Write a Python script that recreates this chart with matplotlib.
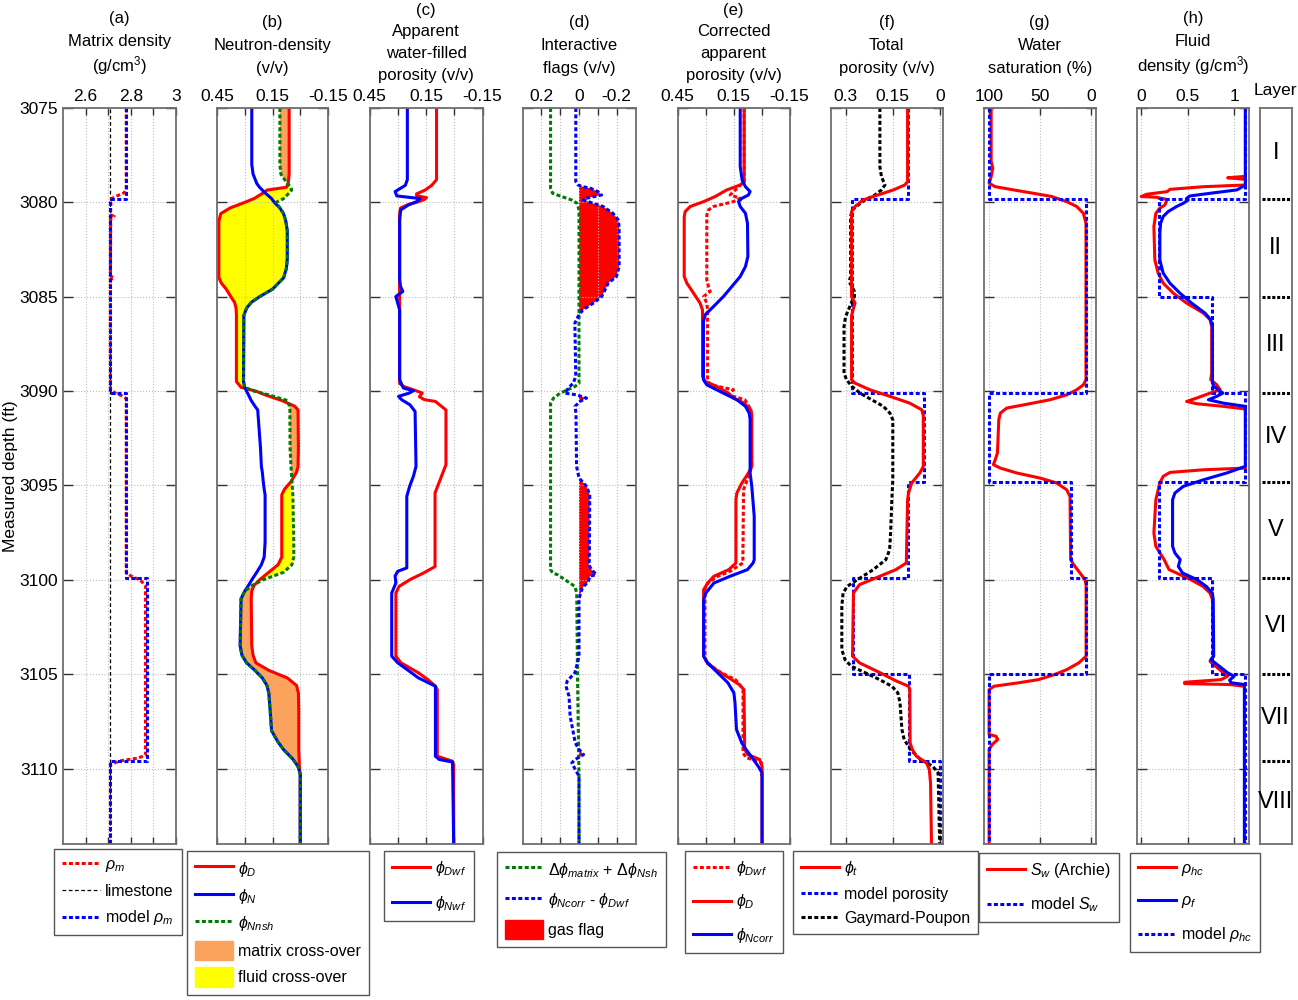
import numpy as np
import matplotlib
matplotlib.use("Agg")
import matplotlib.pyplot as plt
from matplotlib.lines import Line2D
from matplotlib.patches import Patch

plt.rcParams["font.family"] = ["Liberation Sans", "DejaVu Sans"]
plt.rcParams["mathtext.fontset"] = "custom"
plt.rcParams["mathtext.rm"] = "Liberation Sans"
plt.rcParams["mathtext.it"] = "Liberation Sans:italic"
plt.rcParams["mathtext.fallback"] = "stixsans"

# ========================
# DATA
# ========================
DEPTH_TOP, DEPTH_BOTTOM = 3075, 3114
YTICKS = [3075, 3080, 3085, 3090, 3095, 3100, 3105, 3110]

LAYER_NAMES = ["I", "II", "III", "IV", "V", "VI", "VII", "VIII"]
LAYER_TOPS = [3075, 3079.8, 3085.0, 3090.1, 3094.8, 3099.9, 3105.0, 3109.6, 3114]

# model values per layer
MODEL_RHO_M = [2.78, 2.71, 2.71, 2.78, 2.78, 2.87, 2.87, 2.71]
MODEL_POR = [0.103, 0.281, 0.281, 0.05, 0.103, 0.278, 0.10, 0.0]
MODEL_SW = [100, 5, 5, 100, 20, 5, 100, 100]
MODEL_RHO_HC = [1.12, 0.19, 0.76, 1.12, 0.19, 0.76, 1.12, 1.12]
LIMESTONE = 2.71

# (a) matrix density
RHOM_DEPTH = [3075, 3079.3, 3079.5, 3079.65, 3079.8, 3080.0, 3080.65, 3080.75, 3080.85,
              3083.9, 3084.0, 3084.1, 3089.9, 3090.1, 3090.25, 3090.4, 3099.6, 3099.8,
              3100.0, 3100.3, 3109.3, 3109.45, 3109.6, 3109.8, 3114]
RHOM = [2.78, 2.78, 2.77, 2.74, 2.715, 2.712, 2.71, 2.726, 2.711,
        2.71, 2.725, 2.71, 2.71, 2.73, 2.76, 2.78, 2.78, 2.80,
        2.84, 2.865, 2.865, 2.83, 2.75, 2.71, 2.71]

# (b) neutron-density, common depth
DEPTH_B = [3075.0, 3078.0, 3078.5, 3079.0, 3079.2, 3079.35, 3079.5, 3079.8, 3080.0, 3080.3,
           3080.6, 3081.0, 3081.5, 3083.0, 3083.5, 3084.0, 3084.3, 3084.6, 3085.0, 3085.3,
           3085.6, 3086.0, 3089.5, 3089.8, 3090.0, 3090.2, 3090.5, 3090.8, 3091.0, 3093.0,
           3094.0, 3094.3, 3094.8, 3095.2, 3095.5, 3098.0, 3098.8, 3099.2, 3099.6, 3100.0,
           3100.3, 3100.6, 3101.0, 3103.5, 3104.0, 3104.4, 3104.8, 3105.2, 3105.6, 3106.0,
           3107.0, 3108.0, 3108.6, 3109.0, 3109.5, 3109.9, 3110.3, 3114.0]
PHI_D = [0.06, 0.06, 0.06, 0.065, 0.075, 0.18, 0.20, 0.25, 0.30, 0.38,
         0.43, 0.44, 0.44, 0.44, 0.44, 0.44, 0.425, 0.40, 0.375, 0.355,
         0.347, 0.345, 0.345, 0.32, 0.24, 0.19, 0.10, 0.03, 0.012, 0.01,
         0.012, 0.02, 0.05, 0.085, 0.10, 0.10, 0.10, 0.12, 0.17, 0.22,
         0.25, 0.262, 0.265, 0.262, 0.255, 0.24, 0.17, 0.07, 0.02, 0.01,
         0.008, 0.008, 0.008, 0.008, 0.006, 0.005, 0.0, 0.0]
PHI_N = [0.262, 0.262, 0.255, 0.235, 0.22, 0.205, 0.19, 0.155, 0.14, 0.11,
         0.09, 0.078, 0.07, 0.07, 0.075, 0.09, 0.12, 0.15, 0.22, 0.265,
         0.29, 0.305, 0.307, 0.30, 0.29, 0.28, 0.265, 0.245, 0.23, 0.215,
         0.21, 0.205, 0.20, 0.195, 0.19, 0.19, 0.195, 0.21, 0.235, 0.262,
         0.28, 0.30, 0.32, 0.325, 0.315, 0.29, 0.245, 0.205, 0.18, 0.17,
         0.162, 0.155, 0.12, 0.09, 0.04, 0.012, 0.0, 0.0]
PHI_NNSH = [0.11, 0.11, 0.105, 0.07, 0.05, 0.047, 0.06, 0.09, 0.13, 0.11,
            0.09, 0.078, 0.07, 0.07, 0.075, 0.09, 0.12, 0.15, 0.22, 0.265,
            0.29, 0.305, 0.307, 0.30, 0.25, 0.17, 0.07, 0.058, 0.056, 0.055,
            0.05, 0.048, 0.045, 0.042, 0.04, 0.035, 0.035, 0.045, 0.09, 0.20,
            0.26, 0.30, 0.32, 0.325, 0.315, 0.29, 0.245, 0.205, 0.18, 0.17,
            0.162, 0.155, 0.12, 0.09, 0.04, 0.012, 0.0, 0.0]

# (c) apparent water-filled porosity
DWF_DEPTH = [3075, 3078.8, 3079.1, 3079.35, 3079.55, 3079.65, 3079.75, 3079.85, 3080.0, 3080.1,
             3080.3, 3080.6, 3089.6, 3089.75, 3090.1, 3090.3, 3090.45, 3090.55, 3091.0, 3093.9,
             3094.7, 3095.4, 3099.3, 3099.65, 3099.99, 3100.35, 3100.7, 3104.05, 3104.4, 3104.93,
             3105.29, 3105.64, 3105.82, 3109.35, 3109.61, 3109.8, 3114]
PHI_DWF = [0.094, 0.094, 0.12, 0.155, 0.20, 0.20, 0.147, 0.16, 0.20, 0.24,
           0.285, 0.29, 0.29, 0.27, 0.17, 0.185, 0.16, 0.10, 0.044, 0.044,
           0.075, 0.102, 0.102, 0.165, 0.235, 0.293, 0.31, 0.31, 0.283, 0.19,
           0.14, 0.10, 0.09, 0.09, 0.01, 0.003, 0.003]
NWF_DEPTH = [3075, 3078.8, 3079.1, 3079.43, 3079.66, 3079.8, 3079.96, 3080.14, 3080.4, 3080.93,
             3084.11, 3084.46, 3084.72, 3084.99, 3085.17, 3085.7, 3089.4, 3089.84, 3089.98, 3090.11,
             3090.28, 3090.46, 3090.73, 3091.08, 3093.99, 3094.52, 3095.05, 3095.58, 3099.37, 3099.55,
             3099.8, 3100.17, 3100.7, 3104.05, 3104.4, 3104.76, 3105.2, 3105.64, 3109.35, 3109.52,
             3109.66, 3114]
PHI_NWF = [0.249, 0.249, 0.26, 0.314, 0.305, 0.18, 0.20, 0.244, 0.284, 0.29,
           0.29, 0.285, 0.273, 0.31, 0.305, 0.29, 0.29, 0.27, 0.217, 0.24,
           0.296, 0.279, 0.235, 0.208, 0.203, 0.217, 0.237, 0.252, 0.252, 0.30,
           0.314, 0.31, 0.332, 0.332, 0.30, 0.25, 0.19, 0.10, 0.10, 0.08,
           0.009, 0.003]

# (d) interactive flags
DSUM_DEPTH = [3075, 3079.25, 3079.52, 3079.69, 3079.87, 3080.05, 3080.4, 3089.58, 3089.75, 3090.11,
              3090.37, 3090.64, 3099.46, 3099.64, 3099.73, 3099.99, 3100.35, 3100.7, 3105.0, 3110.5, 3114]
DPHI_SUM = [0.151, 0.151, 0.14, 0.093, 0.04, 0.01, 0.0, 0.0, 0.02, 0.10,
            0.135, 0.151, 0.151, 0.14, 0.114, 0.075, 0.022, 0.012, 0.008, 0.0, 0.0]
FLAG_DEPTH = [3075, 3078.9, 3079.08, 3079.17, 3079.25, 3079.43, 3079.61, 3079.78, 3079.87, 3080.05,
              3080.22, 3080.58, 3080.93, 3081.3, 3083.4, 3083.93, 3084.28, 3084.64, 3084.99, 3085.34,
              3085.7, 3086.05, 3086.4, 3089.23, 3089.58, 3089.84, 3090.11, 3090.2, 3090.37, 3090.55,
              3090.81, 3091.17, 3093.99, 3094.6, 3095.05, 3095.49, 3098.93, 3099.2, 3099.46, 3099.64,
              3099.73, 3099.81, 3100.08, 3100.43, 3101.0, 3104.05, 3104.4, 3104.93, 3105.37, 3105.64,
              3106.17, 3107.23, 3108.64, 3108.99, 3109.26, 3109.52, 3109.7, 3110.05, 3110.4, 3114]
DPHI_FLAG = [0.017, 0.017, 0.005, -0.02, -0.06, -0.10, -0.12, -0.04, -0.023, -0.075,
             -0.128, -0.18, -0.208, -0.213, -0.213, -0.199, -0.155, -0.138, -0.12, -0.076,
             -0.02, 0.005, 0.022, 0.017, 0.031, 0.057, 0.075, 0.013, -0.04, -0.005,
             0.021, 0.016, 0.013, 0.0, -0.04, -0.057, -0.055, -0.052, -0.066, -0.084,
             -0.09, -0.058, -0.05, -0.018, 0.0, 0.0, 0.008, 0.022, 0.063, 0.069,
             0.053, 0.047, 0.02, 0.0, -0.024, 0.02, 0.038, 0.02, 0.0, 0.0]

# (e) corrected apparent porosity
DE_DEPTH = [3075, 3078.9, 3079.08, 3079.34, 3079.69, 3079.96, 3080.22, 3080.49, 3080.75, 3083.93,
            3084.28, 3084.81, 3085.34, 3085.7, 3089.23, 3089.49, 3089.75, 3090.11, 3090.37, 3090.64,
            3090.99, 3091.3, 3093.99, 3094.34, 3094.87, 3095.4, 3095.76, 3099.11, 3099.46, 3099.82,
            3100.17, 3100.52, 3104.05, 3104.4, 3104.76, 3105.29, 3105.55, 3105.82, 3108.99, 3109.26,
            3109.52, 3109.88, 3114]
PHI_D_E = [0.093, 0.093, 0.114, 0.186, 0.248, 0.31, 0.382, 0.409, 0.414, 0.414,
           0.40, 0.364, 0.329, 0.316, 0.316, 0.302, 0.24, 0.177, 0.15, 0.093,
           0.057, 0.052, 0.052, 0.07, 0.105, 0.132, 0.137, 0.137, 0.175, 0.256,
           0.288, 0.31, 0.31, 0.288, 0.245, 0.16, 0.12, 0.094, 0.09, 0.073,
           0.01, -0.003, -0.003]
DWFE_DEPTH = [3075, 3078.9, 3079.34, 3079.61, 3079.78, 3079.96, 3080.22, 3080.4, 3080.67, 3084.11,
              3084.46, 3084.72, 3084.99, 3085.34, 3085.7, 3089.4, 3089.67, 3089.93, 3090.2, 3090.46,
              3090.99, 3093.99, 3094.52, 3095.23, 3099.11, 3099.55, 3099.82, 3100.17, 3100.52, 3104.05,
              3104.4, 3104.93, 3105.29, 3105.64, 3105.82, 3109.17, 3109.43, 3109.61, 3109.7, 3110.4]
PHI_DWF_E = [0.093, 0.093, 0.14, 0.168, 0.114, 0.15, 0.257, 0.284, 0.293, 0.293,
             0.284, 0.275, 0.31, 0.293, 0.289, 0.289, 0.275, 0.15, 0.177, 0.089,
             0.057, 0.052, 0.07, 0.096, 0.10, 0.169, 0.235, 0.288, 0.303, 0.303,
             0.295, 0.215, 0.14, 0.11, 0.099, 0.099, 0.082, 0.018, 0.0, 0.0]
NC_DEPTH = [3075, 3078.11, 3078.81, 3079.17, 3079.43, 3079.61, 3079.78, 3079.96, 3080.22, 3080.58,
            3081.11, 3082.87, 3083.4, 3083.93, 3084.46, 3084.99, 3085.52, 3085.96, 3086.31, 3089.4,
            3089.67, 3090.11, 3090.46, 3090.81, 3091.17, 3091.5, 3094.34, 3095.05, 3096.64, 3098.93,
            3099.11, 3099.46, 3099.82, 3100.17, 3100.7, 3101.05, 3104.05, 3104.4, 3104.93, 3105.46,
            3105.99, 3106.52, 3107.93, 3108.64, 3108.99, 3109.43, 3109.88, 3110.23, 3114]
PHI_NCORR = [0.114, 0.114, 0.104, 0.086, 0.061, 0.07, 0.104, 0.123, 0.114, 0.086,
             0.075, 0.073, 0.086, 0.114, 0.159, 0.204, 0.257, 0.302, 0.311, 0.311,
             0.293, 0.204, 0.132, 0.086, 0.066, 0.061, 0.061, 0.052, 0.039, 0.039,
             0.045, 0.075, 0.17, 0.255, 0.298, 0.31, 0.31, 0.29, 0.234, 0.18,
             0.148, 0.142, 0.134, 0.106, 0.083, 0.05, 0.018, -0.003, -0.003]

# (f) total porosity
PT_DEPTH = [3075, 3078.9, 3079.08, 3079.34, 3079.69, 3079.87, 3080.22, 3080.49, 3085.0, 3085.34,
            3085.61, 3086.0, 3089.4, 3089.58, 3089.93, 3090.28, 3090.64, 3090.99, 3091.3, 3093.99,
            3094.34, 3094.87, 3095.4, 3095.76, 3099.11, 3099.46, 3099.9, 3100.26, 3100.7, 3104.05,
            3104.4, 3104.93, 3105.37, 3105.64, 3105.82, 3108.64, 3108.99, 3109.35, 3109.7, 3110.05,
            3110.76, 3114]
PHI_T = [0.103, 0.103, 0.112, 0.148, 0.212, 0.244, 0.27, 0.281, 0.281, 0.27,
         0.275, 0.281, 0.281, 0.27, 0.223, 0.159, 0.096, 0.058, 0.053, 0.053,
         0.064, 0.09, 0.10, 0.103, 0.107, 0.14, 0.204, 0.256, 0.275, 0.278,
         0.256, 0.19, 0.138, 0.10, 0.096, 0.095, 0.088, 0.075, 0.043, 0.034,
         0.03, 0.027]
GP_DEPTH = [3075, 3078.11, 3078.64, 3079.08, 3079.34, 3079.61, 3079.87, 3080.14, 3080.4, 3080.75,
            3083.93, 3084.2, 3084.46, 3084.72, 3084.99, 3085.25, 3085.7, 3086.05, 3086.58, 3089.05,
            3089.4, 3089.75, 3090.11, 3090.46, 3090.81, 3091.17, 3091.52, 3094.7, 3095.76, 3097.52,
            3098.4, 3098.93, 3099.46, 3099.99, 3100.35, 3100.7, 3101.4, 3103.7, 3104.23, 3104.58,
            3104.93, 3105.29, 3105.64, 3105.99, 3106.52, 3107.93, 3108.46, 3108.99, 3109.52, 3109.88,
            3110.23, 3114]
PHI_GP = [0.191, 0.191, 0.186, 0.175, 0.186, 0.207, 0.238, 0.26, 0.279, 0.284,
          0.284, 0.289, 0.28, 0.272, 0.272, 0.28, 0.291, 0.30, 0.305, 0.305,
          0.297, 0.28, 0.254, 0.217, 0.18, 0.159, 0.15, 0.15, 0.153, 0.157,
          0.16, 0.172, 0.212, 0.262, 0.295, 0.308, 0.312, 0.312, 0.302, 0.282,
          0.237, 0.192, 0.153, 0.134, 0.127, 0.121, 0.114, 0.094, 0.062, 0.023,
          0.006, 0.001]

# (g) water saturation
SW_DEPTH = [3075, 3077.82, 3078.18, 3078.64, 3078.99, 3079.17, 3079.34, 3079.52, 3079.69, 3079.96,
            3080.22, 3080.58, 3081.11, 3089.4, 3089.67, 3089.93, 3090.2, 3090.46, 3090.73, 3090.9,
            3091.17, 3091.52, 3093.28, 3093.64, 3093.9, 3094.08, 3094.34, 3094.61, 3094.87, 3095.23,
            3095.58, 3098.93, 3099.2, 3099.64, 3099.99, 3100.3, 3104.05, 3104.4, 3104.76, 3105.02,
            3105.29, 3105.46, 3105.64, 3105.82, 3108.2, 3108.29, 3108.46, 3108.73, 3108.99, 3114]
SW = [98, 98, 96.4, 98, 100, 94, 76, 56.5, 38.6, 23.9,
      14, 7.5, 4.9, 4.9, 7.5, 14, 23.9, 40.2, 66, 82.7,
      89, 90.5, 91.8, 94, 95.8, 89, 72.9, 50, 33.7, 23.9,
      20.6, 20, 17, 10.8, 5.9, 4.8, 4.8, 11.9, 23.8, 35.7,
      51.6, 71.4, 95.2, 100, 100, 93.3, 91.5, 97, 100, 100]

# (h) fluid density (nan = not plotted)
RHC_DEPTH = [3078.62, 3078.7, 3078.78, 3078.85, 3079.08, 3079.17, 3079.31, 3079.43, 3079.57,
             3079.69, 3079.73, 3079.84, 3079.96, 3080.14, 3080.31, 3080.58, 3081.28, 3083.05, 3083.75,
             3084.28, 3084.81, 3085.34, 3085.87, 3086.22, 3086.58, 3089.05, 3089.4, 3089.67, 3089.93,
             3090.11, 3090.37, 3090.55, 3090.67, 3090.81, 3090.95, 3092.0, 3094.0, 3094.08, 3094.17,
             3094.31, 3094.52, 3094.87, 3095.76, 3097.52, 3098.23, 3098.93, 3099.46, 3099.64, 3099.99,
             3100.35, 3100.7, 3101.05, 3104.05, 3104.32, 3104.58, 3104.93, 3105.11, 3105.29, 3105.43,
             3105.5, 3105.55, 3105.64]
RHO_HC = [1.12, 0.93, 1.12, np.nan, 1.12, 0.67, 0.31, 0.28, 0.06,
          0.0, 0.165, 0.27, 0.27, 0.255, 0.2, 0.158, 0.137, 0.147, 0.183,
          0.237, 0.345, 0.489, 0.67, 0.741, 0.759, 0.759, 0.748, 0.813, 0.849,
          0.741, 0.597, 0.489, 0.597, 0.885, 1.12, np.nan, np.nan, 1.12, 0.67,
          0.31, 0.237, 0.2, 0.158, 0.137, 0.158, 0.247, 0.30, 0.38, 0.533,
          0.665, 0.74, 0.767, 0.775, 0.74, 0.80, 0.885, 0.93, 0.86, 0.467,
          0.467, 0.95, 1.105]
RF_DEPTH = [3075, 3079.08, 3079.34, 3079.52, 3079.66, 3079.78, 3079.87, 3080.05, 3080.22, 3080.49,
            3080.75, 3081.11, 3081.64, 3083.05, 3083.75, 3084.28, 3084.81, 3085.34, 3085.87, 3086.22,
            3086.58, 3089.4, 3089.75, 3089.93, 3090.11, 3090.28, 3090.46, 3090.64, 3090.81, 3093.99,
            3094.34, 3094.7, 3095.05, 3095.4, 3095.76, 3098.23, 3098.58, 3098.93, 3099.29, 3099.64,
            3099.99, 3100.35, 3100.7, 3101.05, 3104.05, 3104.23, 3104.58, 3104.93, 3105.11, 3105.32,
            3105.46, 3105.55, 3114]
RHO_F = [1.12, 1.12, 1.03, 0.74, 0.525, 0.49, 0.507, 0.453, 0.381, 0.29,
         0.237, 0.209, 0.201, 0.201, 0.237, 0.309, 0.417, 0.543, 0.687, 0.748,
         0.766, 0.766, 0.777, 0.831, 0.878, 0.813, 0.723, 0.885, 1.12, 1.12,
         0.92, 0.67, 0.453, 0.363, 0.338, 0.338, 0.363, 0.42, 0.40, 0.445,
         0.60, 0.70, 0.765, 0.775, 0.78, 0.75, 0.84, 0.93, 1.0, 0.95,
         0.97, 1.11, 1.11]

# ========================
# STYLE
# ========================
W, H = 1298, 1000
AX_TOP, AX_BOT = 108, 844
RED, BLUE, GREEN = "#ff0000", "#0000ff", "#007a00"
LW = 2.2
DOT = (0, (1.3, 0.8))
TICK_FS, TITLE_FS, LEG_FS = 12.5, 12, 11.5
ROWS3 = [22, 45, 68]          # title line centres (px from top)
ROWS3_SUP = [18, 41, 66]
ROWS4 = [10, 31, 53, 75]


def layer_steps(values):
    d, v = [], []
    for top, base, val in zip(LAYER_TOPS[:-1], LAYER_TOPS[1:], values):
        d += [top, base]
        v += [val, val]
    return v, d


def make_axis(x0, x1):
    return fig.add_axes([x0 / W, 1 - AX_BOT / H, (x1 - x0) / W, (AX_BOT - AX_TOP) / H])


def style_axis(ax, xlim, xticks, xlabels):
    ax.set_xlim(*xlim)
    ax.set_ylim(DEPTH_BOTTOM, DEPTH_TOP)
    ax.set_xticks(xticks)
    ax.set_xticklabels(xlabels)
    ax.set_yticks(YTICKS)
    ax.tick_params(axis="x", top=True, bottom=True, labeltop=True, labelbottom=False,
                   direction="in", length=5, width=1, color="#333333", labelsize=TICK_FS, pad=3)
    ax.tick_params(axis="y", left=True, right=True, labelleft=False, direction="in",
                   length=7, width=1, color="#333333", labelsize=TICK_FS)
    ax.grid(True, ls=":", lw=0.8, color="#bdbdbd")
    for s in ax.spines.values():
        s.set_color("#6e6e6e")
        s.set_linewidth(1.3)


def add_legend(ax, handles, labels, x, y, **kw):
    opts = dict(loc="upper left", bbox_to_anchor=(x / W, 1 - y / H), bbox_transform=fig.transFigure,
                borderaxespad=0, fontsize=LEG_FS, fancybox=False, framealpha=1, edgecolor="#555555",
                handlelength=2.4, handletextpad=0.3, borderpad=0.5, labelspacing=0.6)
    opts.update(kw)
    leg = ax.legend(handles, labels, **opts)
    leg.get_frame().set_linewidth(1.0)
    return leg


def title(ax, lines, rows):
    # one text per line so the spacing follows the reference
    b = ax.get_position()
    for text, yc in zip(lines, rows):
        fig.text(b.x0 + b.width / 2, 1 - (yc + 5) / H, text, ha="center", va="baseline",
                 fontsize=TITLE_FS)


def ln(color, ls="-", lw=LW):
    return Line2D([], [], color=color, ls=ls, lw=lw)


fig = plt.figure(figsize=(W / 100, H / 100), dpi=100)

# (a) matrix density
ax = make_axis(63, 176)
style_axis(ax, (2.5, 3.0), [2.6, 2.7, 2.8, 2.9, 3.0], ["2.6", "", "2.8", "", "3"])
ax.axvline(LIMESTONE, color="black", lw=0.9, ls=(0, (3, 2)))
ax.plot(RHOM, RHOM_DEPTH, color=RED, lw=LW, ls=DOT)
mv, md = layer_steps(MODEL_RHO_M)
ax.plot(mv, md, color=BLUE, lw=LW, ls=DOT)
ax.tick_params(axis="y", labelleft=True)
ax.set_ylabel("Measured depth (ft)", fontsize=TICK_FS, labelpad=1)
title(ax, ["(a)", "Matrix density", "(g/cm$^3$)"], ROWS3_SUP)
add_legend(ax, [ln(RED, DOT), ln("black", (0, (3, 2)), 0.9), ln(BLUE, DOT)],
           [r"$\rho_m$", "limestone", r"model $\rho_m$"], 54, 849, labelspacing=0.6)

# (b) neutron-density
ax = make_axis(217, 328)
style_axis(ax, (0.45, -0.15), [0.45, 0.3, 0.15, 0, -0.15], ["0.45", "", "0.15", "", "-0.15"])
pd_, pg_ = np.array(PHI_D), np.array(PHI_NNSH)
ax.fill_betweenx(DEPTH_B, pd_, pg_, where=pd_ <= pg_, color="#fba35c", lw=0, interpolate=True)
ax.fill_betweenx(DEPTH_B, pd_, pg_, where=pd_ >= pg_, color="#ffff00", lw=0, interpolate=True)
ax.plot(PHI_D, DEPTH_B, color=RED, lw=LW)
ax.plot(PHI_N, DEPTH_B, color=BLUE, lw=LW)
ax.plot(PHI_NNSH, DEPTH_B, color=GREEN, lw=LW, ls=DOT)
title(ax, ["(b)", "Neutron-density", "(v/v)"], ROWS3)
add_legend(ax, [ln(RED), ln(BLUE), ln(GREEN, DOT), Patch(color="#fba35c"), Patch(color="#ffff00")],
           [r"$\phi_D$", r"$\phi_N$", r"$\phi_{Nnsh}$", "matrix cross-over", "fluid cross-over"],
           187, 851, handleheight=1.5, labelspacing=0.45)

# (c) apparent water-filled porosity
ax = make_axis(369.5, 482.5)
style_axis(ax, (0.45, -0.15), [0.45, 0.3, 0.15, 0, -0.15], ["0.45", "", "0.15", "", "-0.15"])
ax.plot(PHI_DWF, DWF_DEPTH, color=RED, lw=LW)
ax.plot(PHI_NWF, NWF_DEPTH, color=BLUE, lw=LW)
title(ax, ["(c)", "Apparent", "water-filled", "porosity (v/v)"], ROWS4)
add_legend(ax, [ln(RED), ln(BLUE)], [r"$\phi_{Dwf}$", r"$\phi_{Nwf}$"], 384, 851,
           labelspacing=1.0)

# (d) interactive flags
ax = make_axis(522.5, 635.5)
style_axis(ax, (0.3, -0.3), [0.2, 0.1, 0, -0.1, -0.2], ["0.2", "", "0", "", "-0.2"])
fl = np.array(DPHI_FLAG)
ax.fill_betweenx(FLAG_DEPTH, 0, fl, where=fl < 0, color=RED, lw=0, interpolate=True)
ax.plot(DPHI_SUM, DSUM_DEPTH, color=GREEN, lw=LW, ls=DOT)
ax.plot(DPHI_FLAG, FLAG_DEPTH, color=BLUE, lw=LW, ls=DOT)
title(ax, ["(d)", "Interactive", "flags (v/v)"], ROWS3)
add_legend(ax, [ln(GREEN, DOT), ln(BLUE, DOT), Patch(color=RED)],
           [r"$\Delta\phi_{matrix}$ + $\Delta\phi_{Nsh}$", r"$\phi_{Ncorr}$ - $\phi_{Dwf}$", "gas flag"],
           497, 852, handleheight=1.45, labelspacing=0.65)

# (e) corrected apparent porosity
ax = make_axis(677.5, 789.5)
style_axis(ax, (0.45, -0.15), [0.45, 0.3, 0.15, 0, -0.15], ["0.45", "", "0.15", "", "-0.15"])
ax.plot(PHI_D_E, DE_DEPTH, color=RED, lw=LW)
ax.plot(PHI_DWF_E, DWFE_DEPTH, color=RED, lw=LW, ls=DOT)
ax.plot(PHI_NCORR, NC_DEPTH, color=BLUE, lw=LW)
title(ax, ["(e)", "Corrected", "apparent", "porosity (v/v)"], ROWS4)
add_legend(ax, [ln(RED, DOT), ln(RED), ln(BLUE)],
           [r"$\phi_{Dwf}$", r"$\phi_D$", r"$\phi_{Ncorr}$"], 685, 851, labelspacing=0.9)

# (f) total porosity
ax = make_axis(830.5, 942.5)
style_axis(ax, (0.348, -0.008), [0.3, 0.15, 0], ["0.3", "0.15", "0"])
mv, md = layer_steps(MODEL_POR)
ax.plot(mv, md, color=BLUE, lw=LW, ls=DOT)
ax.plot(PHI_GP, GP_DEPTH, color="black", lw=LW, ls=DOT)
ax.plot(PHI_T, PT_DEPTH, color=RED, lw=LW)
title(ax, ["(f)", "Total", "porosity (v/v)"], ROWS3)
add_legend(ax, [ln(RED), ln(BLUE, DOT), ln("black", DOT)],
           [r"$\phi_t$", "model porosity", "Gaymard-Poupon"], 793, 851, labelspacing=0.55)

# (g) water saturation
ax = make_axis(983.5, 1096)
style_axis(ax, (105.5, -4.9), [100, 50, 0], ["100", "50", "0"])
ax.plot(SW, SW_DEPTH, color=RED, lw=LW)
mv, md = layer_steps(MODEL_SW)
ax.plot(mv, md, color=BLUE, lw=LW, ls=DOT)
title(ax, ["(g)", "Water", "saturation (%)"], ROWS3)
add_legend(ax, [ln(RED), ln(BLUE, DOT)], [r"$S_w$ (Archie)", r"model $S_w$"], 979, 853,
           labelspacing=0.95)

# (h) fluid density
ax = make_axis(1136.5, 1249.5)
style_axis(ax, (-0.05, 1.165), [0, 0.5, 1], ["0", "0.5", "1"])
ax.plot(RHO_HC, RHC_DEPTH, color=RED, lw=LW)
ax.plot(RHO_F, RF_DEPTH, color=BLUE, lw=LW)
mv, md = layer_steps(MODEL_RHO_HC)
ax.plot(mv, md, color=BLUE, lw=LW, ls=DOT)
title(ax, ["(h)", "Fluid", "density (g/cm$^3$)"], ROWS3_SUP)
add_legend(ax, [ln(RED), ln(BLUE), ln(BLUE, DOT)],
           [r"$\rho_{hc}$", r"$\rho_f$", r"model $\rho_{hc}$"], 1130, 853, labelspacing=0.95)

# layer column
ax = make_axis(1259.5, 1292)
ax.set_xlim(0, 1)
ax.set_ylim(DEPTH_BOTTOM, DEPTH_TOP)
ax.set_xticks([])
ax.set_yticks([])
for s in ax.spines.values():
    s.set_color("#6e6e6e")
    s.set_linewidth(1.3)
for b in LAYER_TOPS[1:-1]:
    ax.plot([0.08, 1.0], [b, b], color="black", lw=2.2, ls=(0, (1, 0.6)))
for name, top, base in zip(LAYER_NAMES, LAYER_TOPS[:-1], LAYER_TOPS[1:]):
    ax.text(0.5, (top + base) / 2, name, ha="center", va="center", fontsize=17)
b = ax.get_position()
fig.text(b.x0 + b.width / 2, 1 - 90 / H, "Layer", ha="center", va="center", fontsize=TICK_FS)

fig.savefig("out.png", dpi=100, facecolor="white")
